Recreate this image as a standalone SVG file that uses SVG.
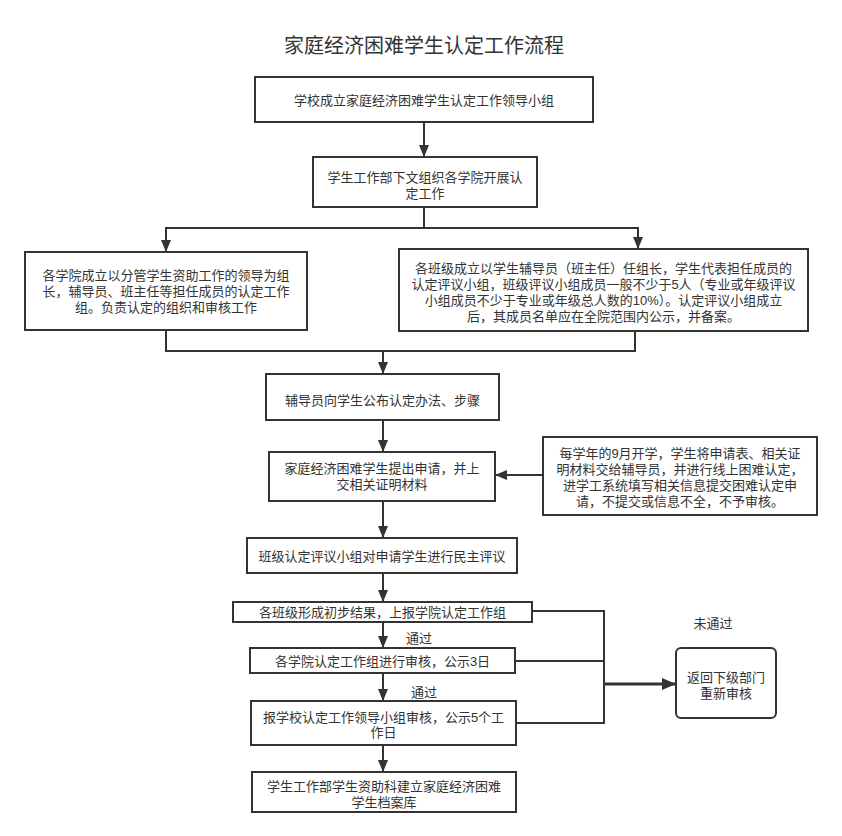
<svg xmlns="http://www.w3.org/2000/svg" width="842" height="836" viewBox="0 0 842 836">
<defs>
<style>
.box{fill:#fff;stroke:#333;stroke-width:2}
.t{font-family:"Liberation Sans","Noto Sans CJK SC",sans-serif;font-size:13px;fill:#333;text-anchor:middle;dominant-baseline:central}
.title{font-family:"Liberation Sans","Noto Sans CJK SC",sans-serif;font-size:20px;fill:#333;text-anchor:middle;dominant-baseline:central}
.c{fill:none;stroke:#333;stroke-width:2}
.a{marker-end:url(#ah)}
</style>
<marker id="ah" markerUnits="userSpaceOnUse" markerWidth="12" markerHeight="12" viewBox="0 0 12 12" refX="12" refY="6" orient="auto"><path d="M0,1 L12,6 L0,11 z" fill="#333"/></marker>
<marker id="ah2" markerUnits="userSpaceOnUse" markerWidth="14" markerHeight="14" viewBox="0 0 14 14" refX="14" refY="7" orient="auto"><path d="M0,1 L14,7 L0,13 z" fill="#333"/></marker>
</defs>
<rect width="842" height="836" fill="#fff"/>
<text class="title" x="424" y="46">家庭经济困难学生认定工作流程</text>

<g id="connectors">
<path class="c a" d="M424,122 V157"/>
<path class="c a" d="M424,207 V228 H166 V252"/>
<path class="c a" d="M424,228 H638 V249"/>
<path class="c a" d="M166,330 V351 H383 V374"/>
<path class="c" d="M635,331 V351 H383"/>
<path class="c a" d="M383,420 V452"/>
<path class="c a" d="M543,475 H495"/>
<path class="c a" d="M383,501 V538"/>
<path class="c a" d="M383,573 V602"/>
<path class="c a" d="M383,622 V648"/>
<path class="c a" d="M383,673 V701"/>
<path class="c a" d="M383,745 V772"/>
<path class="c" d="M532,611 H604 V723 H516"/>
<path class="c" d="M515,661 H604"/>
<path class="c" d="M604,684 H676" style="stroke-width:3;marker-end:url(#ah2)"/>
<text class="t" x="419" y="638">通过</text>
<text class="t" x="424" y="692">通过</text>
<text class="t" x="713" y="623">未通过</text>
</g>

<g id="n1"><rect class="box" x="255" y="77" width="338" height="45"/><text class="t" x="424" y="100">学校成立家庭经济困难学生认定工作领导小组</text></g>
<g id="n2"><rect class="box" x="313" y="157" width="224" height="50"/><text class="t" x="425" y="177">学生工作部下文组织各学院开展认<tspan x="425" dy="16">定工作</tspan></text></g>
<g id="n3"><rect class="box" x="25" y="252" width="282" height="78"/><text class="t" x="166" y="275">各学院成立以分管学生资助工作的领导为组<tspan x="166" dy="16">长，辅导员、班主任等担任成员的认定工作</tspan><tspan x="166" dy="16">组。负责认定的组织和审核工作</tspan></text></g>
<g id="n4"><rect class="box" x="399" y="249" width="409" height="82"/><text class="t" x="603.5" y="268">各班级成立以学生辅导员（班主任）任组长，学生代表担任成员的<tspan x="603.5" dy="16">认定评议小组，班级评议小组成员一般不少于5人（专业或年级评议</tspan><tspan x="603.5" dy="16">小组成员不少于专业或年级总人数的10%）。认定评议小组成立</tspan><tspan x="603.5" dy="16">后，其成员名单应在全院范围内公示，并备案。</tspan></text></g>
<g id="n5"><rect class="box" x="266" y="374" width="233" height="46"/><text class="t" x="382.5" y="400">辅导员向学生公布认定办法、步骤</text></g>
<g id="n6"><rect class="box" x="269" y="452" width="226" height="49"/><text class="t" x="382" y="468">家庭经济困难学生提出申请，并上<tspan x="382" dy="16">交相关证明材料</tspan></text></g>
<g id="n7"><rect class="box" x="543" y="437" width="274" height="78"/><text class="t" x="680" y="453">每学年的9月开学，学生将申请表、相关证<tspan x="680" dy="16">明材料交给辅导员，并进行线上困难认定，</tspan><tspan x="680" dy="16">进学工系统填写相关信息提交困难认定申</tspan><tspan x="680" dy="15.5">请，不提交或信息不全，不予审核。</tspan></text></g>
<g id="n8"><rect class="box" x="247" y="538" width="270" height="35"/><text class="t" x="382" y="556">班级认定评议小组对申请学生进行民主评议</text></g>
<g id="n9"><rect class="box" x="233" y="602" width="299" height="20"/><text class="t" x="382.5" y="612">各班级形成初步结果，上报学院认定工作组</text></g>
<g id="n10"><rect class="box" x="250" y="648" width="265" height="25"/><text class="t" x="382.5" y="661">各学院认定工作组进行审核，公示3日</text></g>
<g id="n11"><rect class="box" x="251" y="701" width="265" height="44"/><text class="t" x="383.5" y="717">报学校认定工作领导小组审核，公示5个工<tspan x="383.5" dy="15">作日</tspan></text></g>
<g id="n12"><rect class="box" x="252" y="772" width="264" height="40"/><text class="t" x="384" y="786">学生工作部学生资助科建立家庭经济困难<tspan x="384" dy="16">学生档案库</tspan></text></g>
<g id="n13"><rect class="box" x="676" y="648" width="100" height="70" rx="5" ry="5"/><text class="t" x="726" y="677">返回下级部门<tspan x="726" dy="16">重新审核</tspan></text></g>
</svg>
